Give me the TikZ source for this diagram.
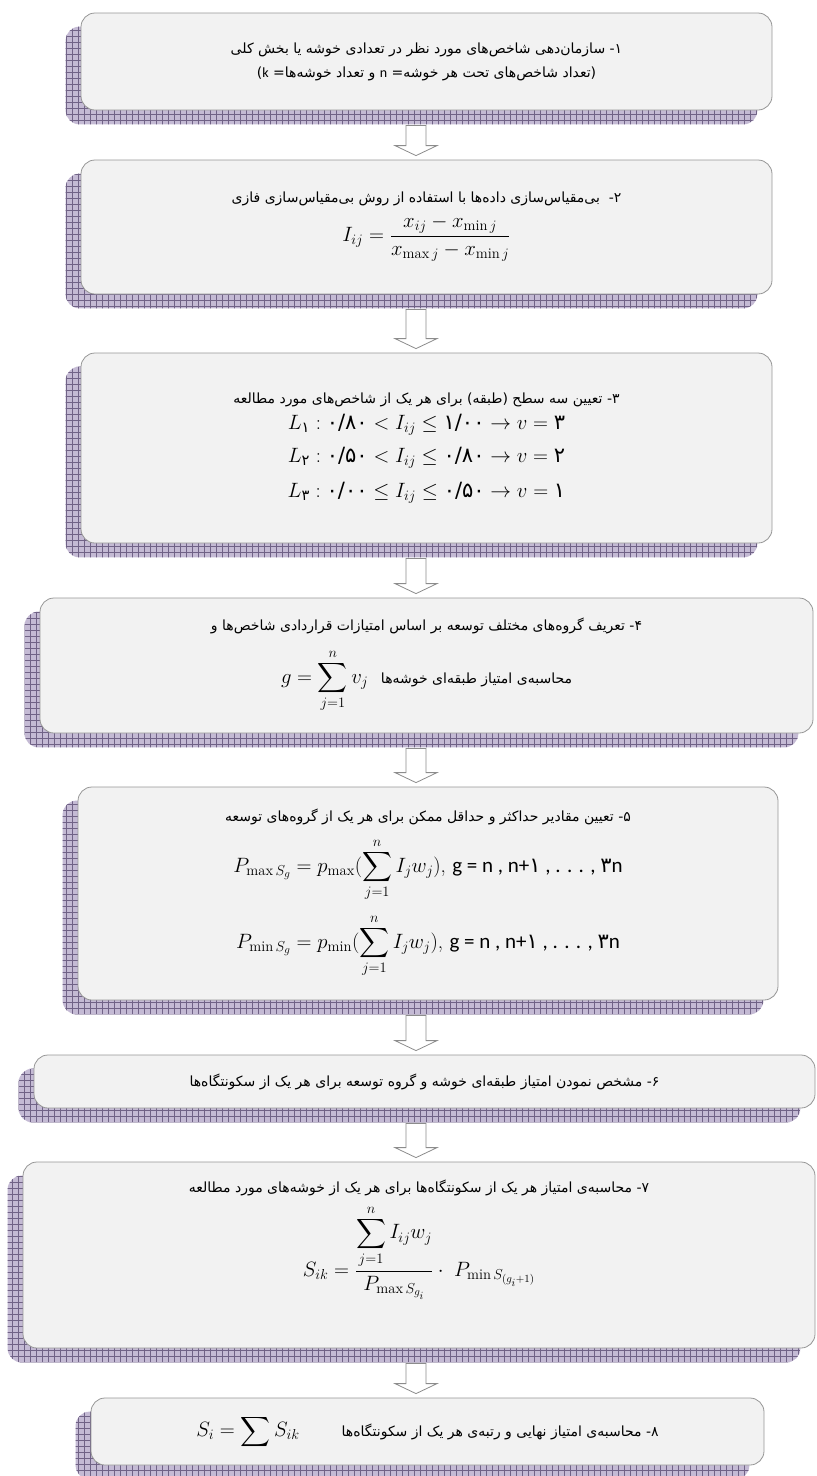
\documentclass[tikz,border=0pt]{standalone}
\usepackage{amsmath}
\usepackage{fontspec}
\usepackage{tikz}
\usetikzlibrary{calc,backgrounds,patterns.meta}
\TeXXeTstate=1
\newfontfamily\fafont[Script=Arabic]{DejaVu Sans}
\newfontfamily\latf{Carlito}
\definecolor{boxfill}{RGB}{242,242,242}
\definecolor{boxline}{RGB}{150,150,150}
\definecolor{shfill}{RGB}{196,186,212}
\definecolor{shline}{RGB}{112,98,134}
\definecolor{arrline}{RGB}{140,140,140}
\tikzset{
  stepbox/.style={draw=boxline,fill=boxfill,rounded corners=14pt,line width=.8pt,
    align=center,inner sep=0pt,font=\fontsize{21}{24}\selectfont},
  shadowbox/.style={fill=shfill,rounded corners=14pt,
    postaction={pattern={Hatch[distance=6pt,line width=.9pt]},pattern color=shline}},
  barrow/.style={draw=arrline,fill=white,line width=.8pt}
}
% persian text and persian digits
\newcommand{\fa}[1]{{\fafont\fontsize{14}{22}\selectfont\beginR #1\endR}}
\newcommand{\pn}[1]{\text{\fafont #1}}
\newcommand{\flowarrow}[2]{%
  \draw[barrow] let \p1=(#1.south), \p2=(#2.north), \p3=(ax) in
    (\x3-10pt,\y1-15pt) -- (\x3+10pt,\y1-15pt) -- (\x3+10pt,\y2+14pt) -- (\x3+21pt,\y2+14pt)
    -- (\x3,\y2+4pt) -- (\x3-21pt,\y2+14pt) -- (\x3-10pt,\y2+14pt) -- cycle;
}
\begin{document}
\begin{tikzpicture}[x=1pt,y=-1pt]
  \useasboundingbox (0,0) rectangle (817,1476);
  \coordinate (ax) at (416,0);

  \node[stepbox,minimum width=691,minimum height=97] (s1) at (426.5,61.5) {%
    \fa{۱\kern0pt- سازمان‌دهی شاخص‌های مورد نظر در تعدادی خوشه یا بخش کلی}\\
    \fa{(تعداد شاخص‌های تحت هر خوشه\kern0pt= {\latf n} و تعداد خوشه‌ها\kern0pt= {\latf k})}};
  \node[stepbox,minimum width=691,minimum height=134] (s2) at (426.5,227) {%
    \fa{۲\kern0pt-\ \ بی‌مقیاس‌سازی داده‌ها با استفاده از روش بی‌مقیاس‌سازی فازی}\\[8pt]
    $I_{ij}=\dfrac{x_{ij}-x_{\min j}}{x_{\max j}-x_{\min j}}$};
  \node[stepbox,minimum width=691,minimum height=190] (s3) at (426.5,448) {%
    \fa{۳\kern0pt- تعیین سه سطح (طبقه) برای هر یک از شاخص‌های مورد مطالعه}\\[2pt]
    $L_{\pn{۱}}:\pn{۰/۸۰}<I_{ij}\le\pn{۱/۰۰}\rightarrow v=\pn{۳}$\\[9pt]
    $L_{\pn{۲}}:\pn{۰/۵۰}<I_{ij}\le\pn{۰/۸۰}\rightarrow v=\pn{۲}$\\[11pt]
    $L_{\pn{۳}}:\pn{۰/۰۰}\le I_{ij}\le\pn{۰/۵۰}\rightarrow v=\pn{۱}$};
  \node[stepbox,minimum width=773,minimum height=135] (s4) at (426.5,665.5) {%
    \fa{۴\kern0pt- تعریف گروه‌های مختلف توسعه بر اساس امتیازات قراردادی شاخص‌ها و}\\[14pt]
    $\displaystyle g=\sum_{j=1}^{n}v_j$\ \ \fa{محاسبه‌ی امتیاز طبقه‌ای خوشه‌ها}};
  \node[stepbox,minimum width=700,minimum height=213] (s5) at (428,893.5) {%
    \fa{۵\kern0pt- تعیین مقادیر حداکثر و حداقل ممکن برای هر یک از گروه‌های توسعه}\\[12pt]
    $\displaystyle P_{\max S_g}=p_{\max}(\sum_{j=1}^{n}I_jw_j)$,\ {\latf g = n , n+\pn{۱} , . . . , \pn{۳}n}\\[12pt]
    $\displaystyle P_{\min S_g}=p_{\min}(\sum_{j=1}^{n}I_jw_j)$,\ {\latf g = n , n+\pn{۱} , . . . , \pn{۳}n}};
  \node[stepbox,minimum width=781,minimum height=53] (s6) at (424.5,1081.5) {%
    \fa{۶\kern0pt- مشخص نمودن امتیاز طبقه‌ای خوشه و گروه توسعه برای هر یک از سکونتگاه‌ها}};
  \node[stepbox,minimum width=792,minimum height=186] (s7) at (419,1255) {%
    \fa{۷\kern0pt- محاسبه‌ی امتیاز هر یک از سکونتگاه‌ها برای هر یک از خوشه‌های مورد مطالعه}\\[8pt]
    $S_{ik}=\dfrac{\displaystyle\sum_{j=1}^{n}I_{ij}w_j}{P_{\max S_{g_i}}}\cdot\;P_{\min S_{(g_i+1)}}$\\[30pt]
    \mbox{}};
  \node[stepbox,minimum width=673,minimum height=67] (s8) at (427.5,1431.5) {%
    $\displaystyle S_i=\sum S_{ik}$\qquad\fa{۸\kern0pt- محاسبه‌ی امتیاز نهایی و رتبه‌ی هر یک از سکونتگاه‌ها}};

  \begin{scope}[on background layer]
    \foreach \b in {1,...,8}
      \path[shadowbox] ([shift={(-15,14)}]s\b.north west) rectangle ([shift={(-15,14)}]s\b.south east);
  \end{scope}

  \flowarrow{s1}{s2}
  \flowarrow{s2}{s3}
  \flowarrow{s3}{s4}
  \flowarrow{s4}{s5}
  \flowarrow{s5}{s6}
  \flowarrow{s6}{s7}
  \flowarrow{s7}{s8}
\end{tikzpicture}
\end{document}
